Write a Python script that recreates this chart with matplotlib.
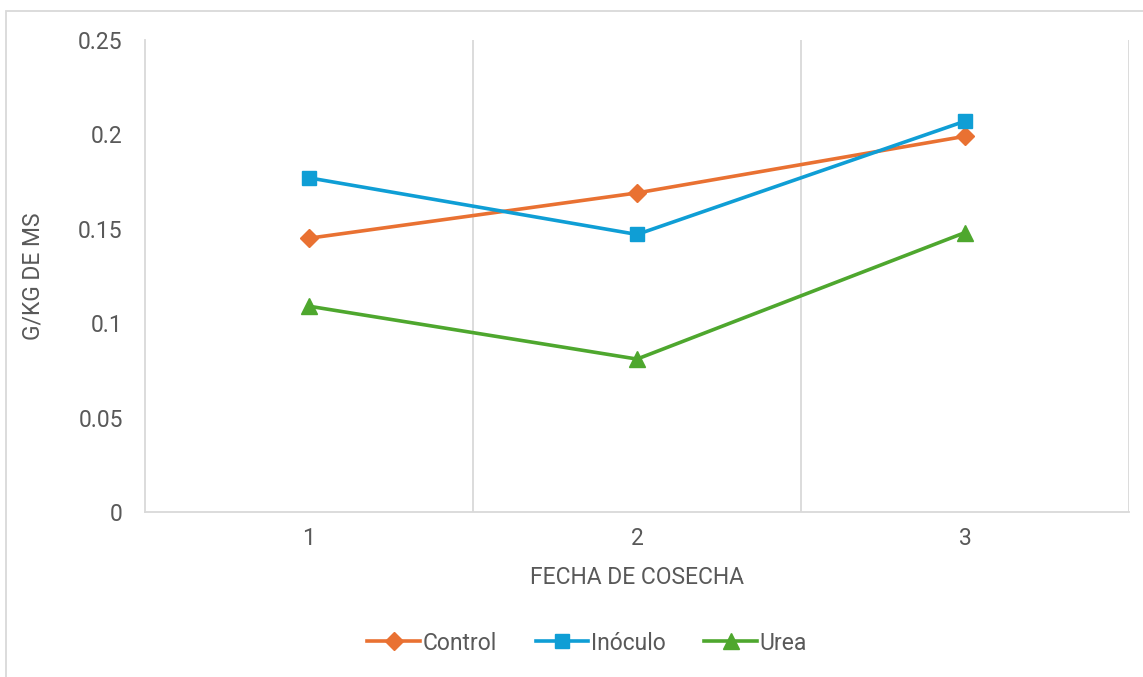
import numpy as np
import matplotlib
matplotlib.use('Agg')
import matplotlib.pyplot as plt
from matplotlib.patches import Rectangle
from matplotlib.ticker import FuncFormatter

plt.rcParams['font.family'] = ['Roboto', 'DejaVu Sans']

fechas = [1, 2, 3]
control = [0.145, 0.169, 0.199]
inoculo = [0.177, 0.147, 0.207]
urea = [0.109, 0.081, 0.148]

W, H = 1143, 677
fig = plt.figure(figsize=(W / 100, H / 100), dpi=100)
ax = fig.add_axes([145 / W, 1 - 512 / H, (1129 - 145) / W, (512 - 40) / H])

# outer chart border (the image is a crop, so right and bottom fall outside)
fig.patches.append(Rectangle((6 / W, -0.1), 1.2, 1 - 11 / H + 0.1,
                             transform=fig.transFigure, fill=False,
                             edgecolor='#d9d9d9', linewidth=1.3))

txt = '#595959'
grid = '#d9d9d9'
fs = 16.5

ax.plot(fechas, control, color='#E97132', lw=2.6, marker='D', ms=9, label='Control')
ax.plot(fechas, inoculo, color='#0F9ED5', lw=2.6, marker='s', ms=10, label='Inóculo')
ax.plot(fechas, urea, color='#4EA72E', lw=2.6, marker='^', ms=11, label='Urea')

ax.set_xlim(0.5, 3.5)
ax.set_ylim(0, 0.25)
ax.set_xticks(fechas)
ax.set_yticks(np.arange(0, 0.26, 0.05))
ax.yaxis.set_major_formatter(FuncFormatter(lambda v, p: ('%.2f' % v).rstrip('0').rstrip('.') if v else '0'))

for x in [1.5, 2.5, 3.5]:
    ax.axvline(x, color=grid, lw=1.3, zorder=0)

for s in ['top', 'right']:
    ax.spines[s].set_visible(False)
for s in ['left', 'bottom']:
    ax.spines[s].set_color(grid)
    ax.spines[s].set_linewidth(1.3)

ax.tick_params(axis='both', length=0, labelcolor=txt, labelsize=fs)
ax.tick_params(axis='y', pad=16)
ax.tick_params(axis='x', pad=11)

ax.set_xlabel('FECHA DE COSECHA', color=txt, fontsize=fs, labelpad=11)
ax.set_ylabel('G/KG DE MS', color=txt, fontsize=fs, labelpad=24)

fig.legend(loc='center', bbox_to_anchor=(587 / W, 1 - 643 / H), ncol=3, frameon=False,
           fontsize=fs, labelcolor=txt, handlelength=2.3, handletextpad=0.1,
           columnspacing=1.7)

fig.savefig('out.png', dpi=100)
